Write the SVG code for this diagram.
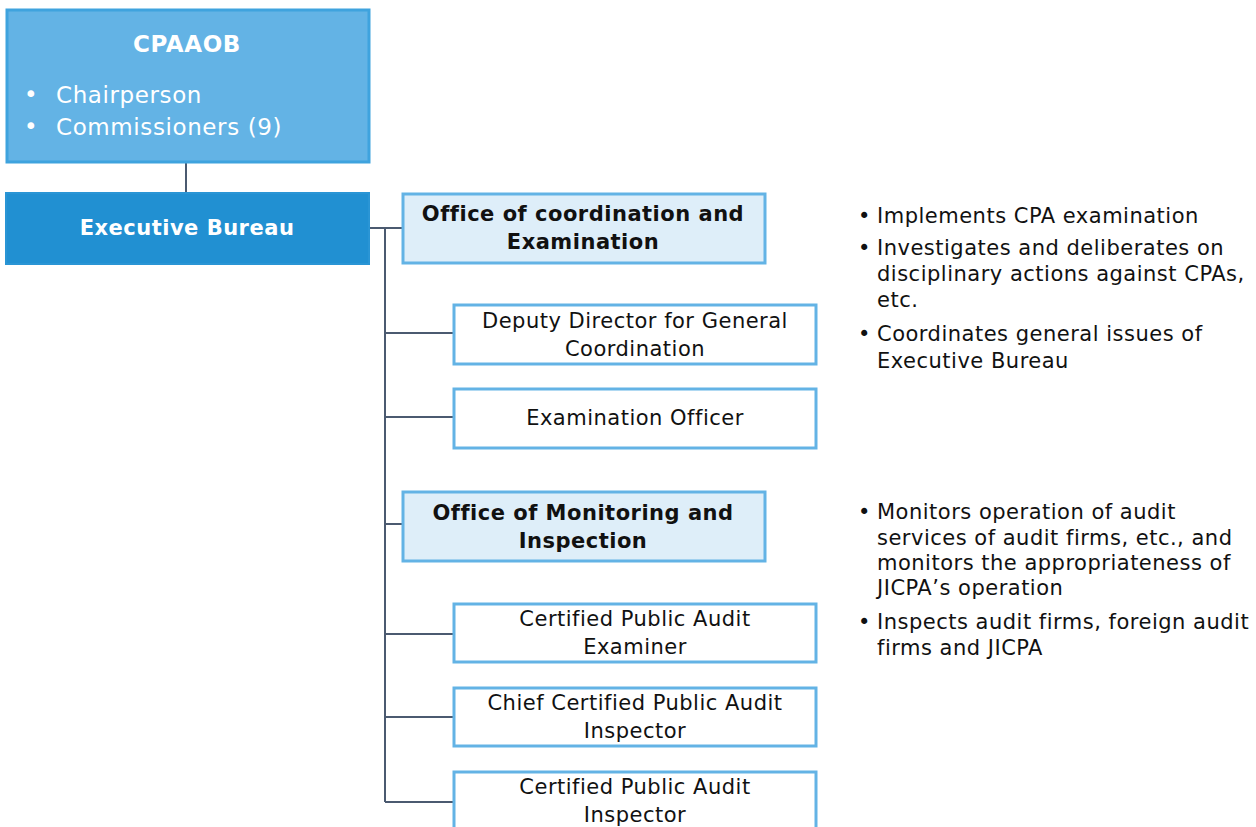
<svg xmlns="http://www.w3.org/2000/svg" width="1256" height="827" viewBox="0 0 1256 827">
<style>
text{font-family:"DejaVu Sans","Verdana",sans-serif;letter-spacing:0.5px;}
.top{fill:#63b3e5;stroke:#3fa3de;stroke-width:3;}
.exec{fill:#2190d2;stroke:#2a95d5;stroke-width:2;}
.office{fill:#deeef9;stroke:#63b3e5;stroke-width:3;}
.unit{fill:#ffffff;stroke:#63b3e5;stroke-width:3;}
.w{fill:#ffffff;}
.b{font-weight:bold;}
.t{font-size:21px;fill:#111111;}
.c{text-anchor:middle;}
.big{font-size:23px;letter-spacing:0.6px;}
.conn{stroke:#4b5a70;stroke-width:2;fill:none;}
</style>
<g id="connectors">
<line class="conn" x1="186" y1="162" x2="186" y2="193"/>
<line class="conn" x1="369" y1="228" x2="402" y2="228"/>
<line class="conn" x1="385" y1="228" x2="385" y2="802"/>
<line class="conn" x1="385" y1="333" x2="453" y2="333"/>
<line class="conn" x1="385" y1="417" x2="453" y2="417"/>
<line class="conn" x1="385" y1="524" x2="402" y2="524"/>
<line class="conn" x1="385" y1="634" x2="453" y2="634"/>
<line class="conn" x1="385" y1="717" x2="453" y2="717"/>
<line class="conn" x1="385" y1="802" x2="453" y2="802"/>
</g>
<g id="cpaaob">
<rect class="top" x="7" y="10" width="362" height="152"/>
<text class="w b c big" x="187" y="52">CPAAOB</text>
<text class="w big" x="24" y="102">•</text>
<text class="w big" x="56" y="103">Chairperson</text>
<text class="w big" x="24" y="134">•</text>
<text class="w big" x="56" y="135">Commissioners (9)</text>
</g>
<g id="executive-bureau">
<rect class="exec" x="6" y="193" width="363" height="71"/>
<text class="w b c" x="187" y="235" font-size="21">Executive Bureau</text>
</g>
<g id="office-coordination">
<rect class="office" x="403" y="194" width="362" height="69"/>
<text class="t b c" x="583" y="221">Office of coordination and</text>
<text class="t b c" x="583" y="249">Examination</text>
</g>
<g id="deputy-director">
<rect class="unit" x="454" y="305" width="362" height="59"/>
<text class="t c" x="635" y="328">Deputy Director for General</text>
<text class="t c" x="635" y="356">Coordination</text>
</g>
<g id="examination-officer">
<rect class="unit" x="454" y="389" width="362" height="59"/>
<text class="t c" x="635" y="425">Examination Officer</text>
</g>
<g id="office-monitoring">
<rect class="office" x="403" y="492" width="362" height="69"/>
<text class="t b c" x="583" y="520">Office of Monitoring and</text>
<text class="t b c" x="583" y="548">Inspection</text>
</g>
<g id="cpa-examiner">
<rect class="unit" x="454" y="604" width="362" height="58"/>
<text class="t c" x="635" y="626">Certified Public Audit</text>
<text class="t c" x="635" y="654">Examiner</text>
</g>
<g id="chief-cpa-inspector">
<rect class="unit" x="454" y="688" width="362" height="58"/>
<text class="t c" x="635" y="710">Chief Certified Public Audit</text>
<text class="t c" x="635" y="738">Inspector</text>
</g>
<g id="cpa-inspector">
<rect class="unit" x="454" y="772" width="362" height="70"/>
<text class="t c" x="635" y="794">Certified Public Audit</text>
<text class="t c" x="635" y="822">Inspector</text>
</g>
<g id="notes-coordination">
<text class="t" x="858" y="223">•</text><text class="t" x="877" y="223">Implements CPA examination</text>
<text class="t" x="858" y="255">•</text><text class="t" x="877" y="255">Investigates and deliberates on</text>
<text class="t" x="877" y="281">disciplinary actions against CPAs,</text>
<text class="t" x="877" y="307">etc.</text>
<text class="t" x="858" y="341">•</text><text class="t" x="877" y="341">Coordinates general issues of</text>
<text class="t" x="877" y="368">Executive Bureau</text>
</g>
<g id="notes-monitoring">
<text class="t" x="858" y="519">•</text><text class="t" x="877" y="519">Monitors operation of audit</text>
<text class="t" x="877" y="545">services of audit firms, etc., and</text>
<text class="t" x="877" y="570">monitors the appropriateness of</text>
<text class="t" x="877" y="595">JICPA’s operation</text>
<text class="t" x="858" y="629">•</text><text class="t" x="877" y="629">Inspects audit firms, foreign audit</text>
<text class="t" x="877" y="655">firms and JICPA</text>
</g>
</svg>
